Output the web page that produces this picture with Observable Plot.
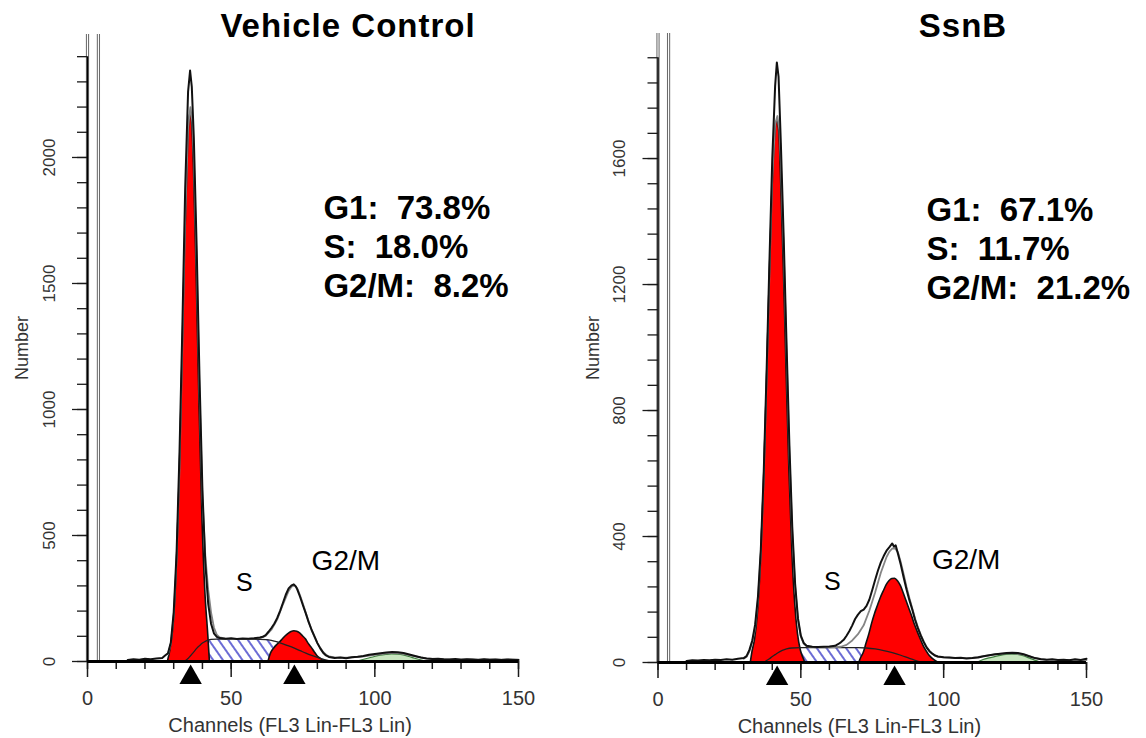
<!DOCTYPE html>
<html><head><meta charset="utf-8">
<script src="https://cdn.jsdelivr.net/npm/d3@7"></script>
<script src="https://cdn.jsdelivr.net/npm/@observablehq/plot@0.6"></script>
<style>
html,body{margin:0;padding:0;background:#fff;}
#wrap{position:relative;width:1146px;height:738px;overflow:hidden;font-family:"Liberation Sans",Arial,Helvetica,sans-serif;}
.panel{position:absolute;top:0;}
.title{position:absolute;top:9px;font-weight:bold;font-size:33px;letter-spacing:1px;color:#000;white-space:nowrap;transform:translateX(-50%);line-height:1;}
</style></head><body>
<div id="wrap"></div>
<script>
// ---------- shared axis ticks ----------
const xMajor = [0, 50, 100, 150];
const xMinor = [0, 10, 20, 30, 40, 50, 60, 70, 80, 90, 100, 110, 120, 130, 140, 150];
const xLabel = "Channels (FL3 Lin-FL3 Lin)";
const yLabel = "Number";
const phaseLabels = ["S", "G2/M"];

// ---------- Vehicle Control ----------
const vcTitle = "Vehicle Control";
const vcStats = ["G1:\u00a0 73.8%", "S:\u00a0 18.0%", "G2/M:\u00a0 8.2%"];
const vcYMajor = [0, 500, 1000, 1500, 2000];
const vcYMinor = [0,100,200,300,400,500,600,700,800,900,1000,1100,1200,1300,1400,1500,1600,1700,1800,1900,2000,2100,2200,2300,2400];
const vcMarkers = [35.9, 72];
const vcData = [[14,6],[16,9],[18,7],[20,11],[22,9],[24,12],[26,14],[27,24],[28,33],[29,75],[30,195],[31,430],[32,820],[33,1320],[34,1880],[35,2260],[35.7,2345],[36.3,2280],[37,2080],[38,1640],[39,1120],[40,680],[41,390],[42,230],[43,150],[44,112],[45,98],[46,93],[48,90],[50,92],[52,89],[54,91],[56,90],[58,92],[60,95],[61,98],[62,105],[63,118],[64,133],[65,150],[66,172],[67,200],[68,232],[69,265],[70,290],[71,302],[71.8,306],[72.5,298],[73,286],[74,256],[75,222],[76,190],[77,155],[78,125],[79,100],[80,73],[81,52],[82,35],[83,24],[84,18],[86,14],[88,16],[90,13],[92,17],[94,19],[96,22],[98,27],[100,30],[102,33],[104,36],[106,38],[108,37],[110,34],[112,28],[114,22],[116,16],[118,12],[120,10],[122,11],[124,9],[126,8],[128,10],[130,7],[132,9],[134,8],[136,6],[138,9],[140,7],[142,8],[144,6],[146,8],[148,7],[150,6]];
const vcFit = [[28,28],[29,70],[30,180],[31,400],[32,760],[33,1240],[34,1760],[35,2120],[35.8,2200],[36.5,2140],[37,2000],[38,1570],[39,1060],[40,650],[41,420],[42,285],[43,195],[44,135],[45,106],[46,96],[48,91],[52,90],[56,90],[60,93],[62,102],[64,126],[66,166],[68,226],[70,280],[71,297],[72,302],[73,290],[74,262],[75,228],[76,192],[77,158],[78,126],[79,98],[80,74],[81,54],[82,38],[83,27],[84,20],[86,16],[90,15],[95,18],[100,26],[104,32],[107,34],[110,30],[114,20],[118,12],[122,9],[130,8],[150,7]];
const vcG1 = [[28,0],[29,55],[30,150],[31,350],[32,690],[33,1160],[34,1660],[35,2040],[35.8,2180],[36.5,2120],[37,1980],[38,1530],[39,1010],[40,570],[41,280],[42,110],[42.6,0]];
const vcS = [[33.5,0],[35,12],[36,25],[37,38],[38,52],[39,63],[40,73],[41,80],[42,85],[43,88],[45,89],[50,89],[55,88],[60,88],[62,87],[63,86],[64,84],[65,81],[66,78],[67,74],[68,70],[70,62],[72,53],[74,43],[76,33],[78,24],[80,16],[82,9],[84,3],[85.5,0]];
const vcG2 = [[63,0],[63.5,20],[64,35],[65,52],[66,65],[67,76],[68,88],[69,100],[70,110],[71,117],[72,120],[73,118],[74,112],[75,100],[76,88],[77,70],[78,55],[79,38],[80,22],[81,12],[82,4],[82.5,0]];
const vcDebris = [[94,0],[96,6],[98,12],[100,18],[102,23],[104,26],[106,28],[108,27],[110,24],[112,18],[114,11],[116,5],[118,0]];

// ---------- SsnB ----------
const ssTitle = "SsnB";
const ssStats = ["G1:\u00a0 67.1%", "S:\u00a0 11.7%", "G2/M:\u00a0 21.2%"];
const ssYMajor = [0, 400, 800, 1200, 1600];
const ssYMinor = [0,80,160,240,320,400,480,560,640,720,800,880,960,1040,1120,1200,1280,1360,1440,1520,1600,1680,1760,1840,1920];
const ssMarkers = [41.7, 82.8];
const ssData = [[10,5],[12,7],[14,6],[16,8],[18,7],[20,9],[22,8],[24,10],[26,9],[28,12],[30,14],[31,20],[32,40],[33,70],[34,120],[35,210],[36,360],[37,600],[38,920],[39,1270],[40,1600],[41,1830],[41.6,1905],[42.2,1860],[43,1650],[44,1350],[45,1010],[46,690],[47,430],[48,250],[49,140],[50,85],[51,62],[52,53],[54,50],[56,49],[58,50],[60,51],[62,53],[63,58],[64,64],[65,72],[66,85],[67,100],[68,118],[69,138],[70,152],[71,163],[72,168],[73,180],[74,200],[75,230],[76,262],[77,292],[78,318],[79,338],[80,355],[81,366],[82,378],[82.6,368],[83.2,372],[84,345],[85,310],[86,270],[87,232],[88,198],[89,168],[90,135],[91,108],[92,85],[93,65],[94,48],[95,36],[96,28],[97,22],[98,19],[100,17],[102,16],[104,14],[106,15],[108,13],[110,14],[112,16],[114,20],[116,23],[118,26],[120,28],[122,30],[124,31],[126,30],[128,26],[130,20],[132,14],[134,10],[136,9],[138,10],[140,8],[142,9],[144,7],[146,10],[148,8],[150,12]];
const ssFit = [[30,12],[31,18],[32,35],[33,65],[34,110],[35,200],[36,345],[37,580],[38,890],[39,1230],[40,1540],[41,1710],[41.8,1735],[42.5,1690],[43,1590],[44,1310],[45,980],[46,660],[47,410],[48,240],[49,135],[50,82],[51,60],[52,52],[55,48],[60,48],[64,50],[66,56],[68,70],[70,90],[72,118],[74,165],[76,222],[78,285],[80,335],[81,352],[82,362],[83,362],[84,350],[85,318],[86,280],[87,240],[88,205],[89,172],[90,140],[91,112],[92,88],[93,67],[94,50],[95,38],[96,29],[97,22],[98,18],[100,16],[105,14],[110,15],[115,22],[120,28],[124,30],[128,25],[132,14],[136,9],[150,8]];
const ssG1 = [[32.5,0],[33,30],[34,75],[35,160],[36,310],[37,540],[38,840],[39,1180],[40,1480],[41,1670],[41.7,1720],[42.5,1680],[43,1560],[44,1270],[45,930],[46,610],[47,360],[48,190],[49,90],[50,38],[51,12],[51.5,0]];
const ssS = [[37,0],[38,6],[39,12],[40,19],[41,25],[42,31],[43,36],[44,40],[45,43],[47,46],[50,47],[55,47],[60,47],[65,47],[70,47],[73,46],[76,43],[79,38],[82,31],[85,23],[88,13],[90,7],[92,2],[93,0]];
const ssG2 = [[70.5,0],[71,12],[72,30],[73,60],[74,90],[75,125],[76,155],[77,180],[78,205],[79,225],[80,245],[81,258],[82,265],[83,266],[84,258],[85,243],[86,220],[87,195],[88,170],[89,145],[90,118],[91,95],[92,73],[93,52],[94,36],[95,22],[96,13],[97,6],[98,0]];
const ssDebris = [[112,0],[114,8],[116,13],[118,17],[120,21],[122,24],[124,25],[126,24],[128,20],[130,13],[132,6],[134,0]];

const FONT = '"Liberation Sans", Arial, Helvetica, sans-serif';
const px = d => d[0], py = d => d[1];

function panel(cfg) {
  const hatch = `url(#${cfg.id}-hatch)`;
  const svg = Plot.plot({
    width: 573, height: 738,
    marginLeft: cfg.ml, marginRight: cfg.mr, marginTop: cfg.mt, marginBottom: cfg.mb,
    style: {fontFamily: FONT, background: "transparent", overflow: "visible", color: "#1a1a1a"},
    x: {domain: [0, 150]},
    y: {domain: [0, cfg.yMax]},
    marks: [
      Plot.ruleX([0, cfg.gate], {y1: 0, y2: cfg.yMax, stroke: "#6c6c6c", strokeWidth: 3.2}),
      Plot.ruleX([0, cfg.gate], {y1: 0, y2: cfg.yMax, stroke: "#ffffff", strokeWidth: 1.1}),
      Plot.areaY(cfg.S, {x: px, y: py, fill: hatch, curve: "monotone-x"}),
      Plot.areaY(cfg.G1, {x: px, y: py, fill: "#ff0000", stroke: "#111", strokeWidth: 1.6, curve: "monotone-x"}),
      Plot.areaY(cfg.G2, {x: px, y: py, fill: "#ff0000", stroke: "#111", strokeWidth: 1.6, curve: "monotone-x"}),
      Plot.areaY(cfg.debris, {x: px, y: py, fill: "#c8e6bf", stroke: "#3d7d3d", strokeWidth: 1.2, curve: "monotone-x"}),
      Plot.line(cfg.S, {x: px, y: py, stroke: "#222", strokeWidth: 1.3, curve: "monotone-x"}),
      Plot.line(cfg.fit, {x: px, y: py, stroke: "#858585", strokeWidth: 1.8}),
      Plot.line(cfg.data, {x: px, y: py, stroke: "#111", strokeWidth: 2}),
      // axes
      Plot.axisY({ticks: cfg.yMinor, tickSize: 10, tickFormat: () => "", label: null, strokeWidth: 1.3}),
      Plot.axisY({ticks: cfg.yMajor, tickSize: 15, tickRotate: -90, tickPadding: 18, fontSize: 17, fill: "#333",
        tickFormat: d => String(d), label: null, strokeWidth: 1.3}),
      Plot.text([yLabel], {frameAnchor: "left", textAnchor: "middle", rotate: -90, dx: -65, fontSize: 18, fill: "#333"}),
      Plot.axisX({ticks: xMinor, tickSize: 8, tickFormat: () => "", label: null, strokeWidth: 1.5}),
      Plot.axisX({ticks: xMajor, tickSize: 16, tickPadding: 13, fontSize: 20, fill: "#333", label: null, strokeWidth: 1.5}),
      Plot.ruleY([0], {x1: 0, x2: 150, stroke: "#000", strokeWidth: 3}),
      Plot.ruleX([0], {y1: 0, y2: cfg.yMinor[cfg.yMinor.length - 1], stroke: "#000", strokeWidth: 1.5}),
      Plot.text([xLabel], {x: () => 70.5, frameAnchor: "bottom", dy: 70, lineAnchor: "bottom", fontSize: 20, fill: "#333", ariaLabel: "xtitle"}),
      Plot.dot(cfg.markers, {x: d => d, frameAnchor: "bottom", dy: 16, symbol: "triangle", r: 8.3, fill: "#000", stroke: "none"}),
      Plot.text([phaseLabels[0]], {x: () => cfg.sPos[0], y: () => cfg.sPos[1], lineAnchor: "bottom", fontSize: 25, fill: "#000", ariaLabel: "phase"}),
      Plot.text([phaseLabels[1]], {x: () => cfg.g2Pos[0], y: () => cfg.g2Pos[1], textAnchor: "start", lineAnchor: "bottom", fontSize: 28, fill: "#000", ariaLabel: "phase"}),
      Plot.text([cfg.stats.join("\n")], {x: () => cfg.statsPos[0], y: () => cfg.statsPos[1], textAnchor: "start", lineAnchor: "top", lineHeight: 1.18, fontSize: 33, fontWeight: "bold", fill: "#000", ariaLabel: "stats"})
    ]
  });
  const defs = d3.select(svg).insert("defs", ":first-child");
  const pat = defs.append("pattern").attr("id", cfg.id + "-hatch").attr("patternUnits", "userSpaceOnUse")
    .attr("width", 8).attr("height", 8).attr("patternTransform", "rotate(-35)");
  pat.append("rect").attr("width", 8).attr("height", 8).attr("fill", "#fff");
  pat.append("line").attr("x1", 4).attr("y1", 0).attr("x2", 4).attr("y2", 8).attr("stroke", "#3a3ac8").attr("stroke-width", 1.5);
  d3.select(svg).selectAll('g[aria-label="stats"] text').style("letter-spacing", "1px");
  d3.select(svg).selectAll('g[aria-label="phase"] text').style("letter-spacing", "1px");
  d3.select(svg).selectAll('g[aria-label="xtitle"] text').style("letter-spacing", "0.8px");
  svg.classList.add("panel");
  svg.style.left = cfg.left + "px";
  return svg;
}

const wrap = document.getElementById("wrap");
wrap.appendChild(panel({
  id: "vc", left: 0, ml: 87, mr: 55, mt: 34, mb: 77, yMax: 2488, gate: 3.8,
  yMajor: vcYMajor, yMinor: vcYMinor, markers: vcMarkers,
  data: vcData, fit: vcFit, G1: vcG1, S: vcS, G2: vcG2, debris: vcDebris,
  stats: vcStats, statsPos: [82.1, 1864], sPos: [54.6, 278], g2Pos: [78, 365]
}));
wrap.appendChild(panel({
  id: "ss", left: 573, ml: 84.5, mr: 60, mt: 33, mb: 76, yMax: 1997, gate: 3.7,
  yMajor: ssYMajor, yMinor: ssYMinor, markers: ssMarkers,
  data: ssData, fit: ssFit, G1: ssG1, S: ssS, G2: ssG2, debris: ssDebris,
  stats: ssStats, statsPos: [94, 1490], sPos: [61, 229], g2Pos: [95.9, 298]
}));
for (const [t, x] of [[vcTitle, 348], [ssTitle, 963]]) {
  const d = document.createElement("div");
  d.className = "title"; d.textContent = t; d.style.left = x + "px";
  wrap.appendChild(d);
}
</script>
</body></html>
